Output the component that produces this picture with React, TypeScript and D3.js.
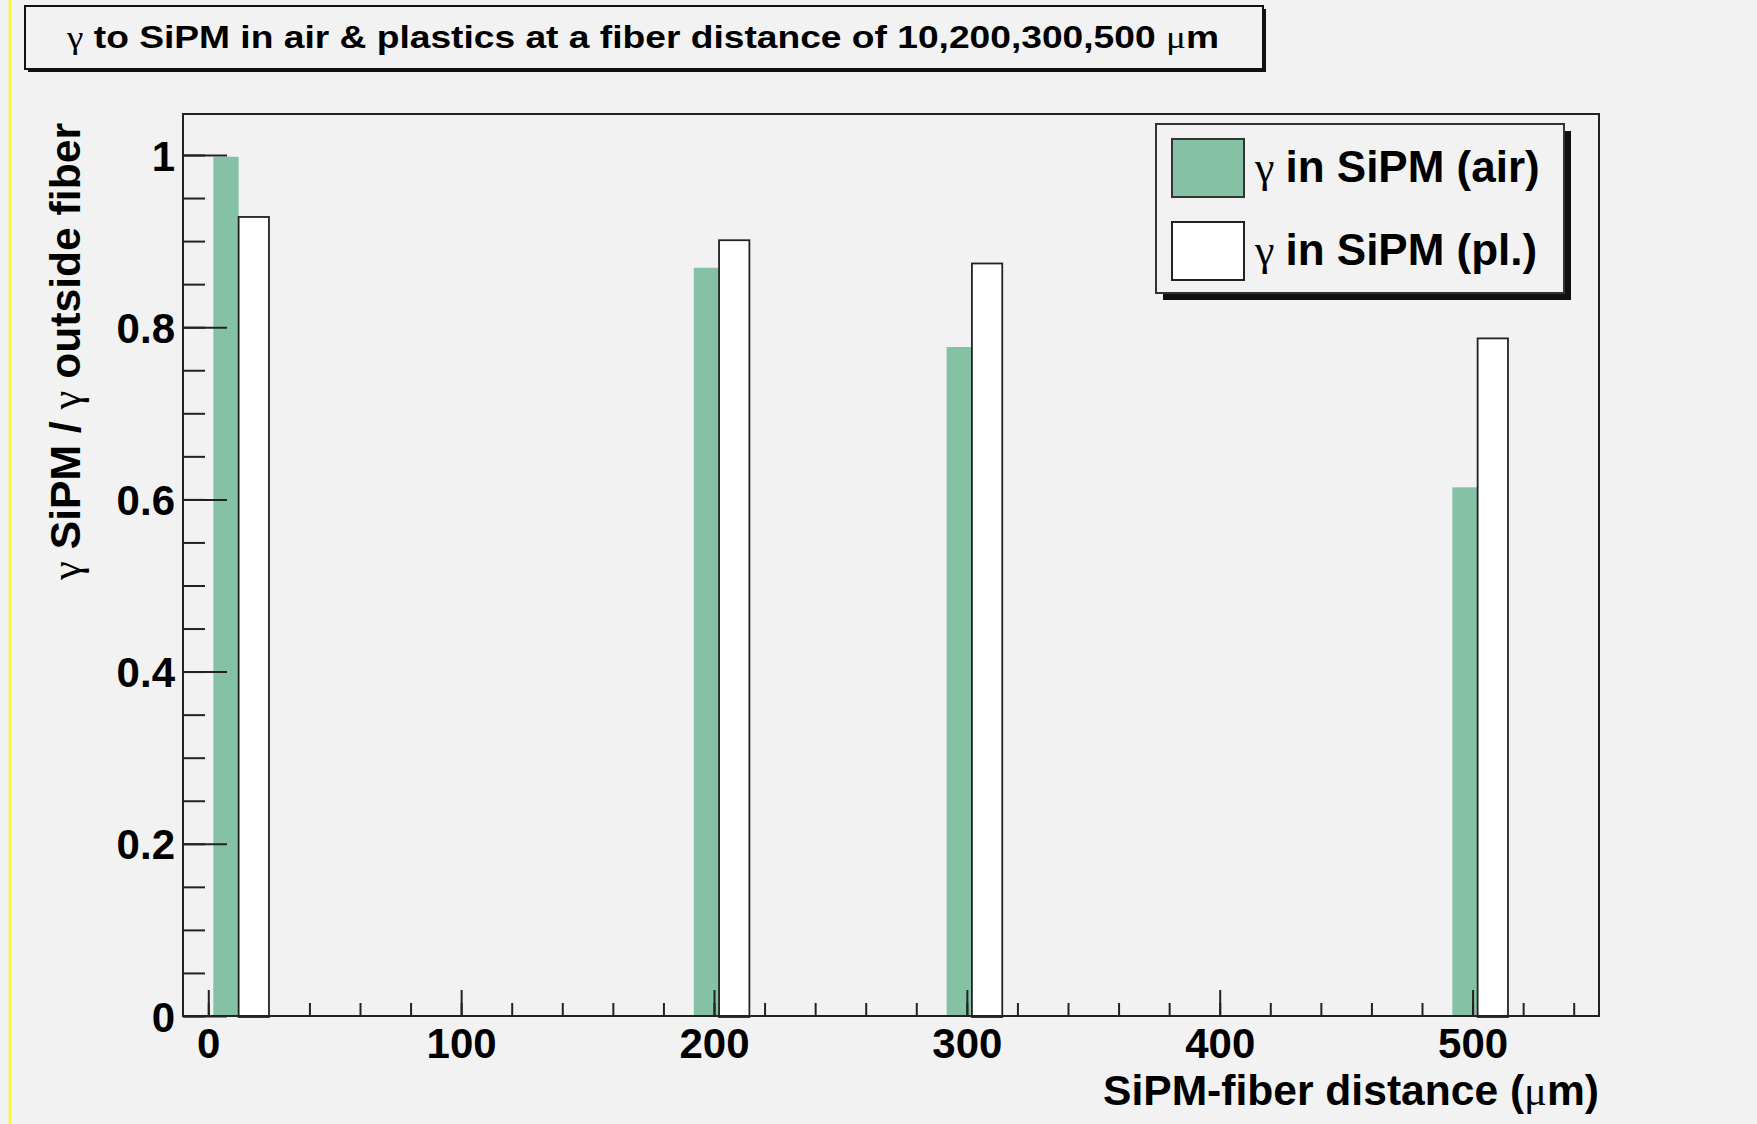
import * as d3 from "d3";
import { useEffect, useRef } from "react";

// distances between SiPM and fiber (um)
const distances = [10, 200, 300, 500];
// gamma fraction reaching the SiPM
const airValues = [0.998, 0.869, 0.777, 0.614];
const plasticValues = [0.928, 0.901, 0.874, 0.787];

const xMajorTicks = [0, 100, 200, 300, 400, 500];
const yMajorTicks = [0, 0.2, 0.4, 0.6, 0.8, 1];

const WIDTH = 1757;
const HEIGHT = 1124;
const GREEN = "#85c1a4";
const BG = "#f2f2f2";
const SANS = "'Liberation Sans', Arial, Helvetica, sans-serif";
const SERIF = "'Liberation Serif', 'Times New Roman', serif";

export default function App() {
  const svgRef = useRef<SVGSVGElement>(null);

  useEffect(() => {
    if (!svgRef.current) return;
    document.body.style.margin = "0";
    const svg = d3.select(svgRef.current);
    svg.selectAll("*").remove();

    const frame = { left: 183, right: 1599, top: 114, bottom: 1016 };

    const x = d3.scaleLinear().domain([-10, 550]).range([frame.left, frame.right]);
    const y = d3.scaleLinear().domain([0, 1.0476]).range([frame.bottom, frame.top]);

    svg.append("rect").attr("width", WIDTH).attr("height", HEIGHT).attr("fill", BG);
    svg
      .append("line")
      .attr("x1", 10)
      .attr("x2", 10)
      .attr("y1", 0)
      .attr("y2", HEIGHT)
      .attr("stroke", "#f7f740")
      .attr("stroke-width", 3);

    // Title box with shadow
    const tb = { x: 25, y: 6, w: 1238, h: 63 };
    svg
      .append("rect")
      .attr("x", tb.x + 3)
      .attr("y", tb.y + 3)
      .attr("width", tb.w)
      .attr("height", tb.h)
      .attr("fill", "#111");
    svg
      .append("rect")
      .attr("x", tb.x)
      .attr("y", tb.y)
      .attr("width", tb.w)
      .attr("height", tb.h)
      .attr("fill", BG)
      .attr("stroke", "#111")
      .attr("stroke-width", 2);
    const title = svg
      .append("text")
      .attr("x", 67)
      .attr("y", 48)
      .attr("font-size", 31)
      .attr("font-family", SANS)
      .attr("font-weight", "bold")
      .attr("textLength", 1152)
      .attr("lengthAdjust", "spacingAndGlyphs");
    title.append("tspan").attr("font-family", SERIF).attr("font-weight", "normal").text("γ");
    title.append("tspan").text(" to SiPM in air & plastics at a fiber distance of 10,200,300,500 ");
    title.append("tspan").attr("font-family", SERIF).attr("font-weight", "normal").text("μ");
    title.append("tspan").text("m");

    const base = y(0);

    // air bars (behind the axis ticks)
    svg
      .append("g")
      .selectAll("rect")
      .data(distances)
      .enter()
      .append("rect")
      .attr("x", (d) => x(d - 8))
      .attr("width", (d) => x(d + 2) - x(d - 8))
      .attr("y", (_, i) => y(airValues[i]))
      .attr("height", (_, i) => base - y(airValues[i]))
      .attr("fill", GREEN);

    const styleAxis = (g: any, size: number) => {
      g.select(".domain").remove();
      g.selectAll(".tick line").attr("stroke", "#222").attr("stroke-width", 2);
      g.selectAll(".tick text")
        .attr("fill", "#000")
        .attr("font-size", size)
        .attr("font-family", SANS)
        .attr("font-weight", "bold");
    };

    // y axis: minor ticks every 0.05
    svg
      .append("g")
      .attr("transform", `translate(${frame.left},0)`)
      .call(
        d3
          .axisLeft(y)
          .tickValues(d3.range(0, 21).map((i) => i * 0.05))
          .tickSize(-22)
          .tickFormat(() => ""),
      )
      .call((g) => styleAxis(g, 42));
    svg
      .append("g")
      .attr("transform", `translate(${frame.left},0)`)
      .call(
        d3
          .axisLeft(y)
          .tickValues(yMajorTicks)
          .tickSize(-44)
          .tickPadding(8)
          .tickFormat((d) => d3.format("~g")(+d)),
      )
      .call((g) => styleAxis(g, 42))
      .call((g) => g.selectAll(".tick text").attr("dy", "0.36em"));

    // x axis: minor ticks every 20
    svg
      .append("g")
      .attr("transform", `translate(0,${frame.bottom})`)
      .call(
        d3
          .axisBottom(x)
          .tickValues(d3.range(0, 28).map((i) => i * 20))
          .tickSize(-13)
          .tickFormat(() => ""),
      )
      .call((g) => styleAxis(g, 42));
    svg
      .append("g")
      .attr("transform", `translate(0,${frame.bottom})`)
      .call(d3.axisBottom(x).tickValues(xMajorTicks).tickSize(-26).tickPadding(12).tickFormat(d3.format("d")))
      .call((g) => styleAxis(g, 42));

    // plastic bars (drawn over the axis)
    svg
      .append("g")
      .selectAll("rect")
      .data(distances)
      .enter()
      .append("rect")
      .attr("x", (d) => x(d + 2))
      .attr("width", (d) => x(d + 14) - x(d + 2))
      .attr("y", (_, i) => y(plasticValues[i]))
      .attr("height", (_, i) => base - y(plasticValues[i]) + 1)
      .attr("fill", "#ffffff")
      .attr("stroke", "#222")
      .attr("stroke-width", 1.8);

    // frame
    svg
      .append("rect")
      .attr("x", frame.left)
      .attr("y", frame.top)
      .attr("width", frame.right - frame.left)
      .attr("height", frame.bottom - frame.top)
      .attr("fill", "none")
      .attr("stroke", "#222")
      .attr("stroke-width", 2);

    // x axis title
    const xt = svg
      .append("text")
      .attr("x", frame.right)
      .attr("y", 1105)
      .attr("text-anchor", "end")
      .attr("font-size", 42)
      .attr("font-family", SANS)
      .attr("font-weight", "bold")
      .attr("textLength", 496)
      .attr("lengthAdjust", "spacingAndGlyphs");
    xt.append("tspan").text("SiPM-fiber distance (");
    xt.append("tspan").attr("font-family", SERIF).attr("font-weight", "normal").text("μ");
    xt.append("tspan").text("m)");

    // y axis title
    const yt = svg
      .append("text")
      .attr("transform", "translate(80,123) rotate(-90)")
      .attr("text-anchor", "end")
      .attr("font-size", 42)
      .attr("font-family", SANS)
      .attr("font-weight", "bold")
      .attr("textLength", 457)
      .attr("lengthAdjust", "spacingAndGlyphs");
    yt.append("tspan").attr("font-family", SERIF).attr("font-weight", "normal").text("γ");
    yt.append("tspan").text(" SiPM / ");
    yt.append("tspan").attr("font-family", SERIF).attr("font-weight", "normal").text("γ");
    yt.append("tspan").text(" outside fiber");

    // legend
    const lg = { x: 1156, y: 124, w: 408, h: 169 };
    svg
      .append("rect")
      .attr("x", lg.x + 7)
      .attr("y", lg.y + 7)
      .attr("width", lg.w)
      .attr("height", lg.h)
      .attr("fill", "#111");
    svg
      .append("rect")
      .attr("x", lg.x)
      .attr("y", lg.y)
      .attr("width", lg.w)
      .attr("height", lg.h)
      .attr("fill", BG)
      .attr("stroke", "#333")
      .attr("stroke-width", 2);

    const entries = [
      { label: "in SiPM (air)", fill: GREEN, stroke: "#333" },
      { label: "in SiPM (pl.)", fill: "#ffffff", stroke: "#222" },
    ];
    entries.forEach((e, i) => {
      const top = 139 + i * 83;
      svg
        .append("rect")
        .attr("x", 1172)
        .attr("y", top)
        .attr("width", 72)
        .attr("height", 58)
        .attr("fill", e.fill)
        .attr("stroke", e.stroke)
        .attr("stroke-width", 2);
      const t = svg
        .append("text")
        .attr("x", 1255)
        .attr("y", top + 43)
        .attr("font-size", 44)
        .attr("font-family", SANS)
        .attr("font-weight", "bold");
      t.append("tspan").attr("font-family", SERIF).attr("font-weight", "normal").text("γ ");
      t.append("tspan").text(e.label);
    });
  }, []);

  return (
    <svg
      ref={svgRef}
      width={WIDTH}
      height={HEIGHT}
      style={{ position: "absolute", left: 0, top: 0, display: "block" }}
    />
  );
}
